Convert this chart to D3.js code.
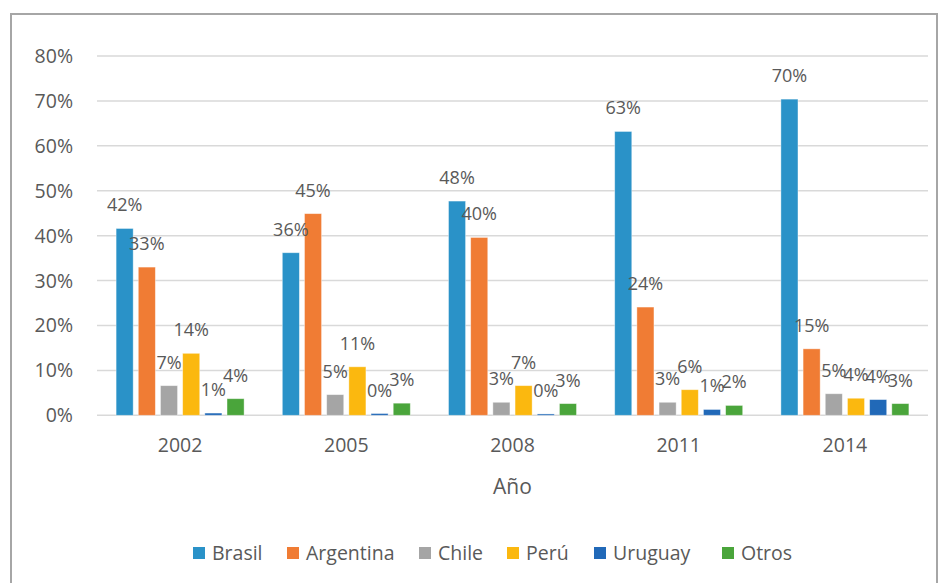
<!DOCTYPE html>
<html>
<head>
<meta charset="utf-8">
<script src="https://cdn.jsdelivr.net/npm/d3@7/dist/d3.min.js"></script>
<style>
  body { margin: 0; background: #fff; }
  text { font-family: "Open Sans", sans-serif; fill: #595959; }
</style>
</head>
<body>
<svg id="chart" width="940" height="583"></svg>
<script>
    // data
    var years = ["2002", "2005", "2008", "2011", "2014"];
    var series = ["Brasil", "Argentina", "Chile", "Perú", "Uruguay", "Otros"];
    var colors = ["#2a92c8", "#f07c34", "#a5a5a5", "#fbb80f", "#2169b8", "#4aa53b"];
    var brasil = [0.416, 0.362, 0.477, 0.632, 0.704];
    var argentina = [0.330, 0.449, 0.396, 0.241, 0.148];
    var chile = [0.066, 0.046, 0.029, 0.029, 0.048];
    var peru = [0.138, 0.108, 0.066, 0.057, 0.038];
    var uruguay = [0.005, 0.004, 0.003, 0.013, 0.035];
    var otros = [0.037, 0.027, 0.026, 0.022, 0.026];
    var yTicks = [0, 0.1, 0.2, 0.3, 0.4, 0.5, 0.6, 0.7, 0.8];

    var values = [brasil, argentina, chile, peru, uruguay, otros];

    var svg = d3.select("#chart");

    // outer frame
    svg.append("rect")
        .attr("x", 11).attr("y", 14)
        .attr("width", 926).attr("height", 600)
        .attr("fill", "none")
        .attr("stroke", "#a6a6a6")
        .attr("stroke-width", 2);

    var left = 97, right = 928;
    var y = d3.scaleLinear().domain([0, 0.8]).range([415.3, 56]);
    var x0 = d3.scaleBand().domain(years).range([left, right]);
    var inner = 128;
    var x1 = d3.scaleBand().domain(series)
        .range([(x0.bandwidth() - inner) / 2, (x0.bandwidth() + inner) / 2])
        .paddingInner(0.23);

    // gridlines
    svg.append("g").selectAll("line").data(yTicks).join("line")
        .attr("x1", left).attr("x2", right)
        .attr("y1", d => y(d)).attr("y2", d => y(d))
        .attr("stroke", "#d9d9d9")
        .attr("stroke-width", 1.5);

    // y labels
    svg.append("g").selectAll("text").data(yTicks).join("text")
        .attr("x", 73)
        .attr("y", d => y(d))
        .attr("dy", "0.36em")
        .attr("text-anchor", "end")
        .style("font-size", "19.5px")
        .text(d => d3.format(".0%")(d));

    // bars
    for (let s = 0; s < series.length; s++) {
        var g = svg.append("g");
        g.selectAll("rect").data(values[s]).join("rect")
            .attr("x", (d, i) => x0(years[i]) + x1(series[s]))
            .attr("y", d => y(d))
            .attr("width", x1.bandwidth())
            .attr("height", d => y(0) - y(d))
            .attr("fill", colors[s])
            .attr("stroke", "#ffffff")
            .attr("stroke-opacity", 0.5)
            .attr("stroke-width", 0.8);
    }
    // data labels on top
    for (let s = 0; s < series.length; s++) {
        svg.append("g").selectAll("text").data(values[s]).join("text")
            .attr("x", (d, i) => x0(years[i]) + x1(series[s]) + x1.bandwidth() / 2)
            .attr("y", d => y(d) - 17)
            .attr("text-anchor", "middle")
            .style("font-size", "18px")
            .text(d => d3.format(".0%")(d));
    }

    // x labels
    svg.append("g").selectAll("text").data(years).join("text")
        .attr("x", d => x0(d) + x0.bandwidth() / 2)
        .attr("y", 452)
        .attr("text-anchor", "middle")
        .style("font-size", "19.5px")
        .text(d => d);

    svg.append("text")
        .attr("x", (left + right) / 2)
        .attr("y", 494)
        .attr("text-anchor", "middle")
        .style("font-size", "21px")
        .text("Año");

    // legend
    var legendX = [193, 287, 419, 507, 594, 722];
    var leg = svg.append("g").selectAll("g").data(series).join("g")
        .attr("transform", (d, i) => "translate(" + legendX[i] + ",553)");
    leg.append("rect")
        .attr("x", 0).attr("y", -6)
        .attr("width", 12).attr("height", 12)
        .attr("fill", (d, i) => colors[i]);
    leg.append("text")
        .attr("x", 19)
        .attr("dy", "0.36em")
        .style("font-size", "19.5px")
        .text(d => d);
</script>
</body>
</html>
